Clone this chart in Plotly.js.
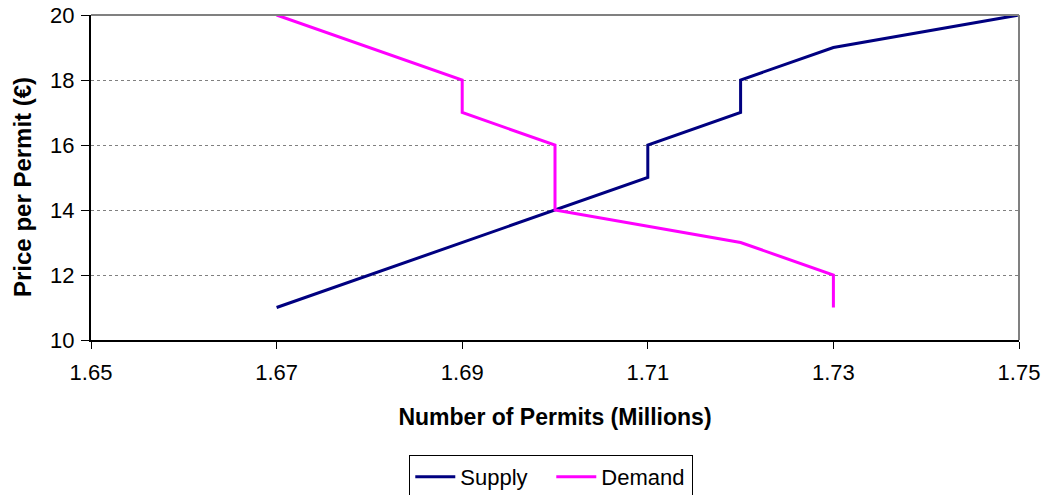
<!DOCTYPE html>
<html><head><meta charset="utf-8">
<script src="https://cdn.plot.ly/plotly-3.0.1.min.js"></script>
<style>body{margin:0;background:#fff}#c{width:1047px;height:495px}</style>
</head><body><div id="c"></div>
<script>
const supplyX = [1.67, 1.69, 1.70, 1.71, 1.71, 1.72, 1.72, 1.73, 1.75];
const supplyY = [11, 13, 14, 15, 16, 17, 18, 19, 20];
const demandX = [1.67, 1.69, 1.69, 1.70, 1.70, 1.72, 1.73, 1.73];
const demandY = [20, 18, 17, 16, 14, 13, 12, 11];
const xTicks = [1.65, 1.67, 1.69, 1.71, 1.73, 1.75];
const yTicks = [10, 12, 14, 16, 18, 20];

const font = {family: 'Liberation Sans, Arial, sans-serif', color: '#000'};
const traces = [
  {x: supplyX, y: supplyY, mode: 'lines', name: 'Supply', line: {color: '#000080', width: 3}},
  {x: demandX, y: demandY, mode: 'lines', name: 'Demand', line: {color: '#FF00FF', width: 3}}
];
const layout = {
  width: 1047, height: 495,
  margin: {l: 91, r: 28, t: 15, b: 155},
  paper_bgcolor: '#fff', plot_bgcolor: '#fff',
  font: Object.assign({size: 22}, font),
  showlegend: true,
  legend: {orientation: 'h', xref: 'paper', x: 0.496, xanchor: 'center',
           yref: 'container', y: 0.0808, yanchor: 'top',
           bordercolor: '#000', borderwidth: 1, font: Object.assign({size: 22}, font),
           itemwidth: 40, tracegroupgap: 0, entrywidth: 86, entrywidthmode: 'pixels'},
  xaxis: {range: [1.65, 1.75], tickvals: xTicks, ticktext: xTicks.map(v => v.toFixed(2)),
          showgrid: false, zeroline: false, showline: true, linecolor: '#000', linewidth: 2,
          ticks: 'outside', ticklen: 7, tickwidth: 1, tickcolor: '#000', ticklabelstandoff: 5,
          tickfont: Object.assign({size: 22}, font), automargin: false,
          title: {text: '<b>Number of Permits (Millions)</b>', font: Object.assign({size: 23}, font), standoff: 24}},
  yaxis: {range: [10, 20], tickvals: yTicks, automargin: false,
          showgrid: true, gridcolor: '#808080', griddash: 'dot', gridwidth: 1,
          zeroline: false, showline: true, linecolor: '#000', linewidth: 2,
          ticks: 'outside', ticklen: 8, tickwidth: 1, tickcolor: '#000', ticklabelstandoff: 2,
          tickfont: Object.assign({size: 22}, font)},
  annotations: [
    {text: '<b>Price per Permit (€)</b>', xref: 'paper', yref: 'paper', x: 0, y: 0.4708,
     xshift: -68, xanchor: 'center', yanchor: 'middle', textangle: -90, showarrow: false,
     font: Object.assign({size: 24}, font)}
  ],
  shapes: [
    {type: 'line', xref: 'paper', yref: 'paper', x0: 0, x1: 1, y0: 1, y1: 1, line: {color: '#808080', width: 2}},
    {type: 'line', xref: 'paper', yref: 'paper', x0: 1, x1: 1, y0: 0, y1: 1, line: {color: '#808080', width: 2}}
  ]
};
Plotly.newPlot('c', traces, layout, {displayModeBar: false, staticPlot: true});
</script></body></html>
